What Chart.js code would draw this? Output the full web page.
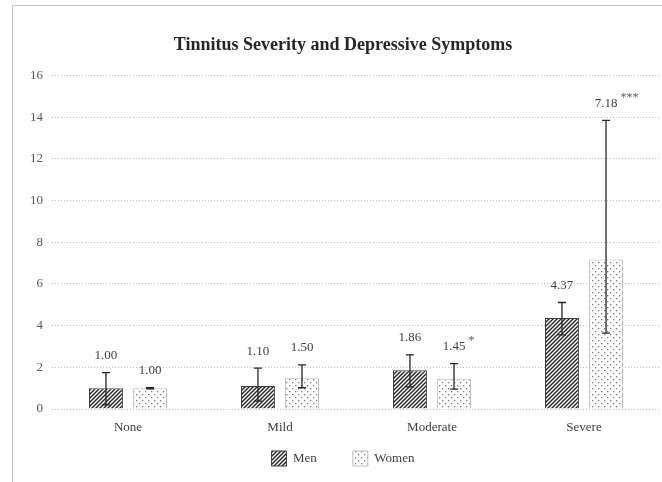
<!DOCTYPE html>
<html>
<head>
<meta charset="utf-8">
<script src="https://cdn.jsdelivr.net/npm/chart.js@4/dist/chart.umd.min.js"></script>
<style>
  html, body { margin: 0; padding: 0; background: #fff; }
  #wrap { position: relative; width: 662px; height: 482px; }
  #frame { position: absolute; left: 12px; top: 5px; width: 660px; height: 490px;
           border-left: 1px solid #c6c6c6; border-top: 1px solid #c6c6c6; box-sizing: border-box; }
  canvas { position: absolute; left: 0; top: 0; }
</style>
</head>
<body>
<div id="wrap">
  <div id="frame"></div>
  <canvas id="c" width="662" height="482"></canvas>
</div>
<script>
const categories = ['None', 'Mild', 'Moderate', 'Severe'];
const menValues = [1.00, 1.10, 1.86, 4.37];
const womenValues = [1.00, 1.50, 1.45, 7.18];
const menLow = [0.20, 0.38, 1.06, 3.56];
const menHigh = [1.75, 1.96, 2.60, 5.11];
const womenLow = [0.97, 1.02, 0.95, 3.64];
const womenHigh = [1.03, 2.12, 2.18, 13.85];
const menSig = ['', '', '', ''];
const womenSig = ['', '', '*', '***'];
const yTicks = [0, 2, 4, 6, 8, 10, 12, 14, 16];

const FONT = "'Liberation Serif', 'Times New Roman', serif";

function hatchPattern() {
  const s = 4;
  const c = document.createElement('canvas');
  c.width = s; c.height = s;
  const g = c.getContext('2d');
  g.fillStyle = '#ffffff'; g.fillRect(0, 0, s, s);
  g.strokeStyle = '#2a2a2a'; g.lineWidth = 1.5;
  g.beginPath();
  g.moveTo(-1, s + 1); g.lineTo(s + 1, -1);
  g.moveTo(-1, 1); g.lineTo(1, -1);
  g.moveTo(s - 1, s + 1); g.lineTo(s + 1, s - 1);
  g.stroke();
  return g.createPattern(c, 'repeat');
}
function dotPattern() {
  const s = 6;
  const c = document.createElement('canvas');
  c.width = s; c.height = s;
  const g = c.getContext('2d');
  g.fillStyle = '#ffffff'; g.fillRect(0, 0, s, s);
  g.fillStyle = '#7a7a7a';
  g.fillRect(1, 1, 1.3, 1.3);
  g.fillRect(4, 4, 1.3, 1.3);
  return g.createPattern(c, 'repeat');
}

const errLow = [menLow, womenLow];
const errHigh = [menHigh, womenHigh];
const sigs = [menSig, womenSig];

const errorPlugin = {
  id: 'errorBars',
  afterDatasetsDraw(chart) {
    const ctx = chart.ctx;
    const y = chart.scales.y;
    chart.data.datasets.forEach((ds, di) => {
      const meta = chart.getDatasetMeta(di);
      meta.data.forEach((bar, i) => {
        const x = bar.x;
        const yl = y.getPixelForValue(errLow[di][i]);
        const yh = y.getPixelForValue(errHigh[di][i]);
        ctx.save();
        ctx.strokeStyle = '#262626';
        ctx.lineWidth = 1.3;
        ctx.beginPath();
        ctx.moveTo(x, yl); ctx.lineTo(x, yh);
        ctx.moveTo(x - 4, yl); ctx.lineTo(x + 4, yl);
        ctx.moveTo(x - 4, yh); ctx.lineTo(x + 4, yh);
        ctx.stroke();
        ctx.fillStyle = '#404040';
        ctx.font = '13px ' + FONT;
        ctx.textAlign = 'center';
        ctx.textBaseline = 'middle';
        const label = ds.data[i].toFixed(2);
        const ly = yh - 17;
        ctx.fillText(label, x, ly);
        const sig = sigs[di][i];
        if (sig) {
          const w = ctx.measureText(label).width;
          ctx.font = '12px ' + FONT;
          ctx.fillStyle = '#595959';
          ctx.textAlign = 'left';
          ctx.fillText(sig, x + w / 2 + 3, ly - 6);
        }
        ctx.restore();
      });
    });
  }
};

// Legend keeps wide horizontal spacing; move it up to sit just below the category labels.
const legendShift = {
  id: 'legendShift',
  afterLayout(chart) {
    const lg = chart.legend;
    if (lg) { lg.top -= 24; lg.bottom -= 24; }
  }
};

new Chart(document.getElementById('c'), {
  type: 'bar',
  data: {
    labels: categories,
    datasets: [
      { label: 'Men', data: menValues, backgroundColor: hatchPattern(),
        borderColor: '#404040', borderWidth: 1,
        categoryPercentage: 0.58, barPercentage: 0.77 },
      { label: 'Women', data: womenValues, backgroundColor: dotPattern(),
        borderColor: '#bfbfbf', borderWidth: 1,
        categoryPercentage: 0.58, barPercentage: 0.77 }
    ]
  },
  options: {
    responsive: false,
    animation: false,
    devicePixelRatio: 1,
    layout: { padding: { left: 26, right: 2, top: 0, bottom: -18 } },
    plugins: {
      title: {
        display: true,
        text: 'Tinnitus Severity and Depressive Symptoms',
        color: '#262626',
        font: { family: FONT, size: 18, weight: 'bold' },
        padding: { top: 35, bottom: 19 }
      },
      legend: {
        position: 'bottom',
        labels: {
          color: '#404040',
          font: { family: FONT, size: 13 },
          boxWidth: 15, boxHeight: 15,
          padding: 36
        }
      },
      tooltip: { enabled: false }
    },
    scales: {
      x: {
        grid: { display: false, drawTicks: false, tickLength: 0 },
        border: { display: false },
        afterFit(scale) { scale.height = 30; },
        ticks: { color: '#404040', font: { family: FONT, size: 13 }, padding: 11 }
      },
      y: {
        min: 0, max: 16,
        afterBuildTicks(scale) { scale.ticks = yTicks.map(v => ({ value: v })); },
        afterFit(scale) { scale.width = 26; },
        border: { display: false, dash: [1, 2] },
        grid: { color: '#bdbdbd', lineWidth: 1, tickLength: 0, drawTicks: false },
        ticks: { color: '#595959', font: { family: FONT, size: 13 }, padding: 9 }
      }
    }
  },
  plugins: [errorPlugin, legendShift]
});
</script>
</body>
</html>
